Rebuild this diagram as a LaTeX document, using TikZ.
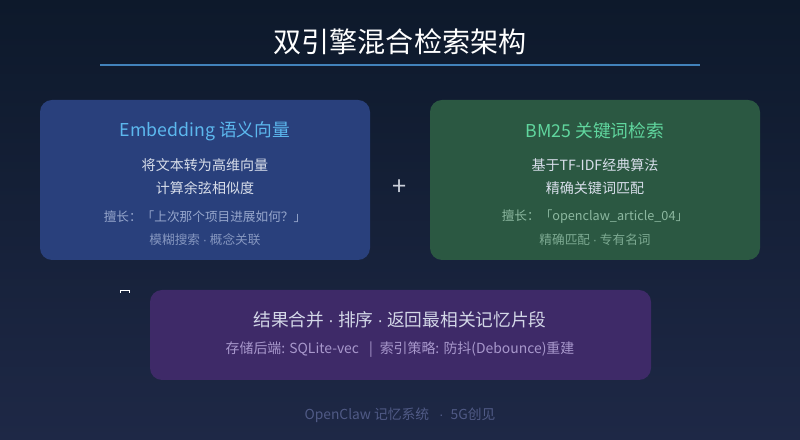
\documentclass[tikz,border=0pt]{standalone}
\usepackage{fontspec}
\setmainfont{Noto Sans CJK SC}
\newfontfamily\latinfont{Liberation Sans}
\newcommand{\middot}{{\latinfont ·}}
\definecolor{bgtop}{RGB}{13,25,43}
\definecolor{bgbot}{RGB}{30,40,70}
\definecolor{rule}{RGB}{66,130,186}
\definecolor{embfill}{RGB}{41,64,124}
\definecolor{embhead}{RGB}{92,184,238}
\definecolor{embsub}{RGB}{150,166,204}
\definecolor{bmfill}{RGB}{43,88,66}
\definecolor{bmhead}{RGB}{96,214,158}
\definecolor{bmsub}{RGB}{140,184,160}
\definecolor{mergefill}{RGB}{62,42,104}
\definecolor{mergesub}{RGB}{168,152,204}
\definecolor{bodytext}{RGB}{216,222,234}
\definecolor{foot}{RGB}{80,90,134}
\begin{document}
\begin{tikzpicture}[x=1cm,y=1cm,
  card/.style={rounded corners=0.3cm},
  head/.style={font=\fontsize{12.6}{15}\selectfont},
  body/.style={font=\fontsize{10}{12}\selectfont,text=bodytext},
  note/.style={font=\fontsize{9}{11}\selectfont}]
\shade[top color=bgtop,bottom color=bgbot] (0,0) rectangle (20,11);

\node[text=white,font=\fontsize{20}{24}\selectfont] (title) at (10,9.95) {双引擎混合检索架构};
\draw[rule,line width=0.8pt] (2.5,9.375)--(17.5,9.375);

\fill[card,embfill] (1,4.5) rectangle (9.25,8.5);
\node[head,text=embhead] (embtitle) at (5.125,7.725) {Embedding 语义向量};
\node[body] (emb1) at (5.125,6.875) {将文本转为高维向量};
\node[body] (emb2) at (5.125,6.3) {计算余弦相似度};
\node[note,text=embsub] (emb3) at (5.125,5.575) {擅长：「上次那个项目进展如何？」};
\node[note,text=embsub!85!embfill] (emb4) at (5.125,5.0) {模糊搜索 \middot\ 概念关联};

\node[text=bodytext!85!gray,font=\fontsize{18}{20}\selectfont] (plus) at (10,6.3) {+};

\fill[card,bmfill] (10.75,4.5) rectangle (19,8.5);
\node[head,text=bmhead] (bmtitle) at (14.875,7.725) {BM25 关键词检索};
\node[body] (bm1) at (14.875,6.875) {基于TF-IDF经典算法};
\node[body] (bm2) at (14.875,6.3) {精确关键词匹配};
\node[note,text=bmsub] (bm3) at (14.875,5.575) {擅长：「openclaw\_article\_04」};
\node[note,text=bmsub!85!bmfill] (bm4) at (14.875,5.0) {精确匹配 \middot\ 专有名词};

\draw[white,line width=0.5pt] (3.0,3.68)--(3.0,3.75)--(3.225,3.75)--(3.225,3.68);

\fill[card,mergefill] (3.75,1.5) rectangle (16.275,3.75);
\node[text=bodytext!90!mergesub,font=\fontsize{12.6}{15}\selectfont] (merge) at (10,3.0) {结果合并 \middot\ 排序 \middot\ 返回最相关记忆片段};
\node[note,text=mergesub,font=\fontsize{9.9}{12}\selectfont] (store) at (10,2.25) {存储后端: SQLite-vec \enspace|\enspace 索引策略: 防抖(Debounce)重建};

\node[note,text=foot,font=\fontsize{9.8}{12}\selectfont] (footer) at (10,0.625) {OpenClaw 记忆系统 \enspace\middot\enspace 5G创见};
\end{tikzpicture}
\end{document}
